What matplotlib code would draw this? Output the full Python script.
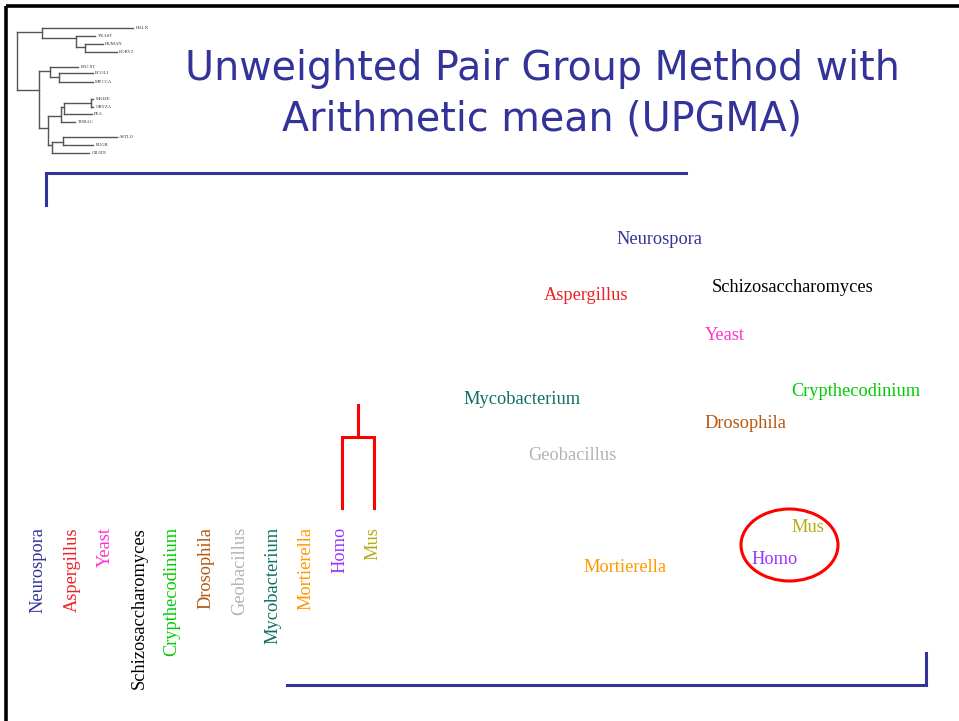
import matplotlib
matplotlib.use("Agg")
import matplotlib.pyplot as plt
from matplotlib.patches import Ellipse

# ---------------- data ----------------
species = ["Neurospora", "Aspergillus", "Yeast", "Schizosaccharomyces",
           "Crypthecodinium", "Drosophila", "Geobacillus", "Mycobacterium",
           "Mortierella", "Homo", "Mus"]
colors = ["#333399", "#ee2026", "#ff33cc", "#000000", "#00cc00", "#b5570f",
          "#b3b3b3", "#0f6e60", "#ff9900", "#9933ff", "#b3ad12"]
# scattered label positions (pixel layout of the slide)
scatter_names = ["Neurospora", "Aspergillus", "Schizosaccharomyces", "Yeast",
                 "Crypthecodinium", "Mycobacterium", "Drosophila", "Geobacillus",
                 "Mortierella", "Homo", "Mus"]
scatter_x = [659, 586, 793, 725, 856, 522, 745, 572, 625, 775, 808]
scatter_y = [240, 296, 288, 336, 392, 400, 424, 455, 568, 560, 528]

# vertical leaf labels along the bottom
leaf_x = [38, 72, 105, 139, 172, 206, 240, 273, 306, 340, 373]
leaf_top = 527

title_lines = ["Unweighted Pair Group Method with", "Arithmetic mean (UPGMA)"]
title_color = "#333399"

# thumbnail tree: (name, y, x_start, x_end)
thumb_leaves = [("HALN", 28.3, 41.7, 133.3), ("YEAST", 35.7, 76, 95),
                ("HUMAN", 44.3, 85, 102.7), ("BORV2", 52.3, 85, 116.7),
                ("BACST", 66.7, 50, 78.3), ("ECOLI", 73.3, 59, 92.7),
                ("MYCCA", 82.3, 59, 92.7), ("MAIZE", 99, 91, 93.3),
                ("ORYZA", 107, 91, 93.3), ("PEA", 114.3, 64.3, 91.7),
                ("TOBAC", 121.7, 61, 75), ("ASTLO", 137.3, 63.3, 116.7),
                ("EUGR", 145, 63.3, 93.3), ("GRATE", 153.3, 51.7, 89.3)]
# internal vertical segments (x, y0, y1)
thumb_vert = [(16.7, 32.3, 89.7), (41.7, 28.3, 38.3), (76, 35.7, 47.3),
              (85, 44.3, 52.3), (39.3, 70.7, 127.7), (50, 66.7, 77.3),
              (59, 73.3, 82.3), (48.3, 115.7, 145), (61, 106.7, 121.7),
              (64.3, 103, 114.3), (91, 99, 107), (51.7, 141.7, 153.3),
              (63.3, 137.3, 145)]
# internal horizontal segments (y, x0, x1)
thumb_horiz = [(32.3, 16.7, 41.7), (38.3, 41.7, 76), (47.3, 76, 85),
               (89.7, 16.7, 39.3), (70.7, 39.3, 50), (77.3, 50, 59),
               (127.7, 39.3, 48.3), (115.7, 48.3, 61), (106.7, 61, 64.3),
               (103, 64.3, 91), (145, 48.3, 51.7), (141.7, 51.7, 63.3)]

# ---------------- figure ----------------
W, H = 959, 721
fig = plt.figure(figsize=(W / 100, H / 100), dpi=100)
ax = fig.add_axes([0, 0, 1, 1])
ax.set_xlim(0, W)
ax.set_ylim(H, 0)
ax.axis("off")

# slide border (left + top)
ax.plot([6, 6], [6, H], color="black", lw=2.6, solid_capstyle="butt")
ax.plot([6, W], [6, 6], color="black", lw=2.6, solid_capstyle="butt")

# title
ax.text(542, 80, title_lines[0], color=title_color, fontsize=28.5,
        ha="center", va="baseline", family="DejaVu Sans")
ax.text(542, 130, title_lines[1], color=title_color, fontsize=28.5,
        ha="center", va="baseline", family="DejaVu Sans")

# blue decorative brackets
blue = "#333399"
ax.plot([46, 46, 686], [205, 173, 173], color=blue, lw=2.2,
        solid_joinstyle="miter")
ax.plot([287, 926, 926], [685, 685, 653], color=blue, lw=2.2,
        solid_joinstyle="miter")

# thumbnail tree
tc = "#555555"
for (x, y0, y1) in thumb_vert:
    ax.plot([x, x], [y0, y1], color=tc, lw=1.0)
for (y, x0, x1) in thumb_horiz:
    ax.plot([x0, x1], [y, y], color=tc, lw=1.0)
for (name, y, x0, x1) in thumb_leaves:
    ax.plot([x0, x1], [y, y], color=tc, lw=1.0)
    ax.text(x1 + 2.5, y, name, fontsize=3.4, va="center", ha="left",
            family="Liberation Serif", color="#333333")

cmap = dict(zip(species, colors))

# vertical leaf labels
for name, x in zip(species, leaf_x):
    ax.text(x, leaf_top, name, rotation=90, color=cmap[name],
            fontsize=13.2, ha="center", va="top", family="Liberation Serif")

# scattered labels
for name, x, y in zip(scatter_names, scatter_x, scatter_y):
    ax.text(x, y, name, color=cmap[name], fontsize=13.2,
            ha="center", va="center", family="Liberation Serif")

# red dendrogram joining Homo and Mus
hx = leaf_x[species.index("Homo")] + 1.7
mx = leaf_x[species.index("Mus")] + 1
ax.plot([hx, hx, mx, mx], [508, 437, 437, 508], color="red", lw=2.2,
        solid_joinstyle="miter")
ax.plot([(hx + mx) / 2, (hx + mx) / 2], [437, 405], color="red", lw=2.2)

# red ellipse around Homo / Mus
ax.add_patch(Ellipse((789.5, 545), 97, 72, fill=False, edgecolor="red", lw=2.2))

fig.savefig("out.png", dpi=100)
